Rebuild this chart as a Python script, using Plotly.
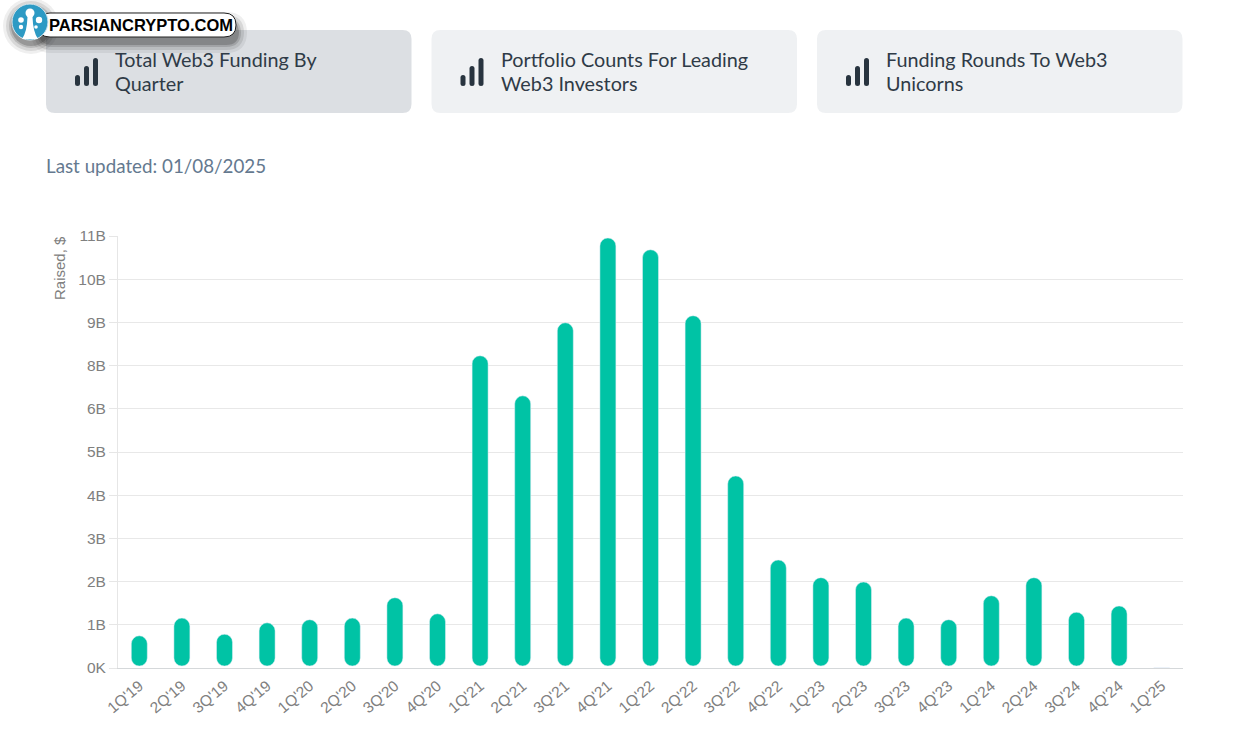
import plotly.graph_objects as go

# quarterly funding, $B
quarters = ["1Q'19", "2Q'19", "3Q'19", "4Q'19", "1Q'20", "2Q'20", "3Q'20", "4Q'20",
            "1Q'21", "2Q'21", "3Q'21", "4Q'21", "1Q'22", "2Q'22", "3Q'22", "4Q'22",
            "1Q'23", "2Q'23", "3Q'23", "4Q'23", "1Q'24", "2Q'24", "3Q'24", "4Q'24", "1Q'25"]
raised = [0.82, 1.27, 0.86, 1.15, 1.23, 1.27, 1.79, 1.38,
          7.95, 6.93, 8.79, 10.95, 10.65, 8.97, 4.89, 2.75,
          2.30, 2.19, 1.27, 1.23, 1.84, 2.30, 1.42, 1.58, 0.01]
tick_vals = [0, 1.1, 2.2, 3.3, 4.4, 5.5, 6.6, 7.7, 8.8, 9.9, 11]
tick_text = ["0K", "1B", "2B", "3B", "4B", "5B", "6B", "8B", "9B", "10B", "11B"]
tabs = [["Total Web3 Funding By", "Quarter"],
        ["Portfolio Counts For Leading", "Web3 Investors"],
        ["Funding Rounds To Web3", "Unicorns"]]

W, H = 1234, 756
L, R, T, B = 118, 1183, 236, 668
GREEN = "#00c3a5"
UI_FONT = "Lato"
AXIS_GREY = "#808080"


def fx(x):
    return (x - L) / (R - L)


def fy(y):
    return (B - y) / (B - T)


def round_rect(x0, y0, x1, y1, r, fill, line=None):
    path = (f"M {fx(x0 + r)} {fy(y0)} L {fx(x1 - r)} {fy(y0)} Q {fx(x1)} {fy(y0)} {fx(x1)} {fy(y0 + r)} "
            f"L {fx(x1)} {fy(y1 - r)} Q {fx(x1)} {fy(y1)} {fx(x1 - r)} {fy(y1)} "
            f"L {fx(x0 + r)} {fy(y1)} Q {fx(x0)} {fy(y1)} {fx(x0)} {fy(y1 - r)} "
            f"L {fx(x0)} {fy(y0 + r)} Q {fx(x0)} {fy(y0)} {fx(x0 + r)} {fy(y0)} Z")
    return dict(type="path", xref="paper", yref="paper", path=path, fillcolor=fill,
                line=dict(width=1 if line else 0, color=line or fill), layer="above")


def circle(cx, cy, r, fill, line=None):
    return dict(type="circle", xref="paper", yref="paper", x0=fx(cx - r), x1=fx(cx + r),
                y0=fy(cy + r), y1=fy(cy - r), fillcolor=fill,
                line=dict(width=1 if line else 0, color=line or fill), layer="above")


# a bar with a base gets rounded at both ends
floor = [min(0.05, v) for v in raised]

fig = go.Figure()
fig.add_bar(x=quarters, y=[v - f for v, f in zip(raised, floor)], base=floor,
            marker=dict(color=GREEN, cornerradius=8), width=0.375, hoverinfo="skip")

shapes = []
annotations = []

# tab buttons
for i, lines in enumerate(tabs):
    x0 = 46 + i * 385.5
    shapes.append(round_rect(x0, 30, x0 + 365.5, 113, 9, "#dcdfe3" if i == 0 else "#eff1f3"))
    for j, (top, bottom) in enumerate([(75, 86), (66, 86), (58, 86)]):
        bx = x0 + 29 + j * 9
        shapes.append(round_rect(bx, top, bx + 5, bottom, 2.5, "#28343f"))
    for j, text in enumerate(lines):
        annotations.append(dict(x=fx(x0 + 67), y=fy(59.5 + j * 24), xref="paper", yref="paper", text=text,
                                showarrow=False, xanchor="left", yanchor="middle",
                                font=dict(family=UI_FONT, size=19.8, color="#2f3b47")))

annotations.append(dict(x=fx(44), y=fy(165.5), xref="paper", yref="paper", text="Last updated: 01/08/2025",
                        showarrow=False, xanchor="left", yanchor="middle",
                        font=dict(family=UI_FONT, size=18.8, color="#64798f")))
annotations.append(dict(x=fx(59), y=fy(268), xref="paper", yref="paper", text="Raised, $", textangle=-90,
                        showarrow=False, xanchor="center", yanchor="middle",
                        font=dict(family="Liberation Sans", size=15, color=AXIS_GREY)))

# watermark badge, soft shadow first
for grow, alpha in [(9, 0.07), (6, 0.11), (3, 0.16), (1, 0.22)]:
    shapes.append(round_rect(40 - grow, 15 - grow + 6, 238 + grow, 38 + grow + 6, 12 + grow, f"rgba(30,30,30,{alpha})"))
    shapes.append(circle(31, 26, 19 + grow, f"rgba(30,30,30,{alpha})"))
shapes.append(round_rect(38, 13, 236, 37, 12, "white", "#222222"))
shapes.append(circle(30, 22, 18, "#2d9ac4", "#d8e6ec"))
for cx, cy, r in [(30, 13, 4.5), (21, 20, 2.8), (39, 20, 3.2), (21, 27, 2.2), (36, 27, 1.8)]:
    shapes.append(circle(cx, cy, r, "white"))
shapes.append(dict(type="path", xref="paper", yref="paper", layer="above", fillcolor="white", line=dict(width=0),
                   path=(f"M {fx(22)} {fy(39)} Q {fx(27)} {fy(32)} {fx(27.5)} {fy(17)} L {fx(32.5)} {fy(17)} "
                         f"Q {fx(33)} {fy(32)} {fx(38)} {fy(39)} Z")))
annotations.append(dict(x=fx(140.5), y=fy(25.5), xref="paper", yref="paper", text="<b>PARSIANCRYPTO.COM</b>",
                        showarrow=False, xanchor="center", yanchor="middle",
                        font=dict(family="Liberation Sans", size=16.5, color="#000000")))

fig.update_layout(
    width=W, height=H,
    margin=dict(l=L, r=W - R, t=T, b=H - B, pad=0),
    plot_bgcolor="white", paper_bgcolor="white",
    showlegend=False,
    shapes=shapes, annotations=annotations,
    xaxis=dict(type="category", tickangle=-40, showgrid=False, ticks="", showline=True,
               linecolor="#d5d8da", linewidth=1, zeroline=False, ticklabelstandoff=2,
               tickfont=dict(family="Liberation Sans", size=15.5, color=AXIS_GREY)),
    yaxis=dict(range=[0, 11], tickvals=tick_vals, ticktext=tick_text, ticks="outside", ticklen=8,
               tickcolor="#e6e6e6", gridcolor="#e8e8e8", gridwidth=1, showline=True, linecolor="#e6e6e6",
               zeroline=False, tickfont=dict(family="Liberation Sans", size=15.5, color=AXIS_GREY)),
)

fig.write_html("out.html", config=dict(displayModeBar=False), post_script="document.body.style.margin='0';")
